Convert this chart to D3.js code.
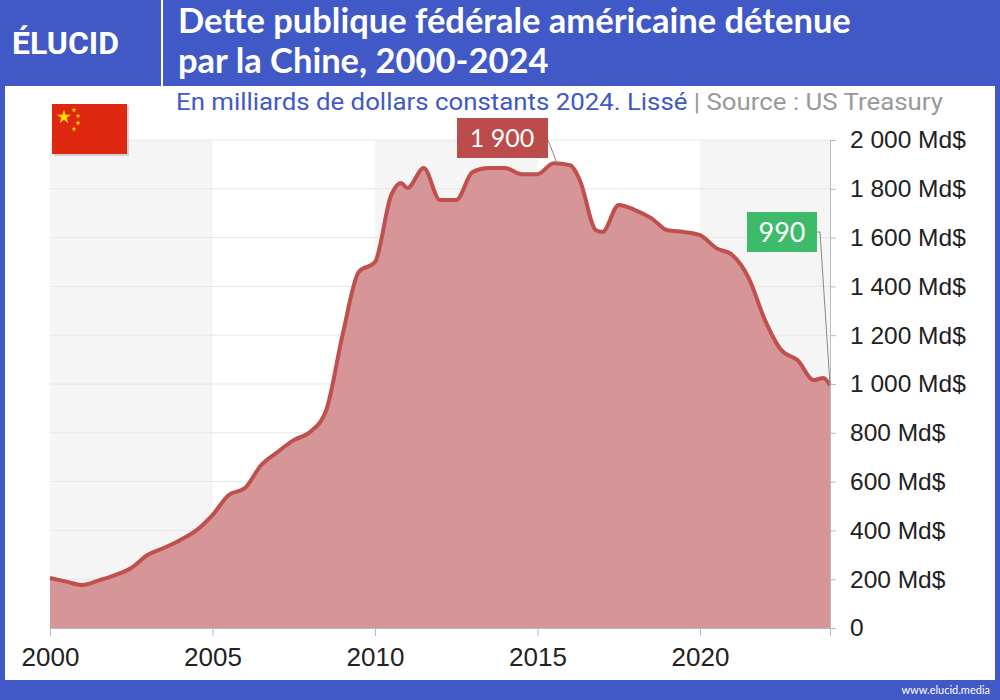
<!DOCTYPE html>
<html><head><meta charset="utf-8">
<script src="https://cdn.jsdelivr.net/npm/d3@7"></script>
<style>body{margin:0;background:#fff}svg{display:block;font-family:Lato,Roboto,sans-serif}</style>
</head><body><svg id="c" width="1000" height="700"></svg>
<script>
const years=[2000,2000.5,2001,2001.5,2002,2002.5,2003,2003.5,2004,2004.5,2005,2005.5,2006,2006.5,2007,2007.5,2008,2008.5,2009,2009.5,2010,2010.5,2010.8,2011,2011.5,2012,2012.5,2013,2013.5,2014,2014.5,2015,2015.5,2016,2016.3,2016.8,2017,2017.5,2018,2018.5,2019,2019.5,2020,2020.5,2021,2021.5,2022,2022.5,2023,2023.5,2023.8,2024];
const values=[205,190,176,195,217,246,299,328,360,400,463,545,574,668,721,770,803,893,1200,1459,1500,1775,1824,1803,1885,1754,1754,1869,1885,1885,1860,1860,1905,1897,1836,1630,1623,1734,1713,1680,1630,1623,1610,1557,1528,1434,1262,1139,1098,1016,1025,995];
const yTicks=[0,200,400,600,800,1000,1200,1400,1600,1800,2000];
const xTicks=[2000,2005,2010,2015,2020];
const bands=[[2000,2005],[2010,2015],[2020,2024]];
const blue="#4159c6";
const svg=d3.select("#c");
const x=d3.scaleLinear().domain([2000,2024]).range([50,830]);
const y=d3.scaleLinear().domain([0,2000]).range([628,140]);
svg.append("rect").attr("width",1000).attr("height",700).attr("fill",blue);
svg.append("rect").attr("x",5).attr("y",86).attr("width",990).attr("height",594).attr("fill","#fff");
svg.append("line").attr("x1",162).attr("x2",162).attr("y1",0).attr("y2",86).attr("stroke","#fff").attr("stroke-width",2);
svg.append("text").attr("x",12).attr("y",54).attr("fill","#fff").attr("font-size",32).attr("font-weight",700).attr("font-family","Roboto").text("ÉLUCID");
svg.append("text").attr("x",178).attr("y",33).attr("fill","#fff").attr("font-size",34.5).attr("font-weight",700).text("Dette publique fédérale américaine détenue");
svg.append("text").attr("x",178).attr("y",73).attr("fill","#fff").attr("font-size",34.5).attr("font-weight",700).text("par la Chine, 2000-2024");
const st=svg.append("text").attr("x",176).attr("y",110).attr("font-size",23).attr("font-family","Roboto").attr("textLength",767).attr("lengthAdjust","spacingAndGlyphs");
st.append("tspan").attr("fill",blue).text("En milliards de dollars constants 2024. Lissé");
st.append("tspan").attr("fill","#999").text("  |  Source : US Treasury");
svg.append("text").attr("x",990).attr("y",694).attr("text-anchor","end").attr("fill","#fff").attr("font-size",11).text("www.elucid.media");
svg.selectAll(".band").data(bands).join("rect").attr("x",d=>x(d[0])).attr("width",d=>x(d[1])-x(d[0])).attr("y",y(2000)).attr("height",y(0)-y(2000)).attr("fill","#f5f5f5");
svg.selectAll(".g").data(yTicks).join("line").attr("x1",50).attr("x2",830).attr("y1",d=>y(d)).attr("y2",d=>y(d)).attr("stroke","#e6e6e6");
svg.append("rect").attr("x",54).attr("y",106).attr("width",75).attr("height",50).attr("fill","#999").attr("opacity",0.4);
svg.append("rect").attr("x",52).attr("y",104).attr("width",75).attr("height",50).attr("fill","#de2910");
const star=d3.symbol().type(d3.symbolStar);
svg.append("path").attr("d",star.size(60)()).attr("transform","translate(64,117)").attr("fill","#ffde00");
[[74,110],[78,116],[78,123],[74,129]].forEach(p=>svg.append("path").attr("d",star.size(8)()).attr("transform",`translate(${p[0]},${p[1]})`).attr("fill","#ffde00"));
const data=years.map((d,i)=>[d,values[i]]);
svg.append("path").datum(data).attr("fill","#d69596").attr("d",d3.area().x(d=>x(d[0])).y0(y(0)).y1(d=>y(d[1])).curve(d3.curveMonotoneX));
svg.append("path").datum(data).attr("fill","none").attr("stroke","#c0504d").attr("stroke-width",4).attr("d",d3.line().x(d=>x(d[0])).y(d=>y(d[1])).curve(d3.curveMonotoneX));
const ya=svg.append("g").attr("transform","translate(830,0)").call(d3.axisRight(y).tickValues(yTicks).tickSize(6).tickFormat(d=>d===0?"0":d3.format(",")(d).replace(","," ")+" Md$"));
ya.select(".domain").attr("stroke","#bbb");ya.selectAll("line").attr("stroke","#bbb");
ya.selectAll("text").attr("font-size",24.5).attr("fill","#222").attr("x",20);
const xa=svg.append("g").attr("transform","translate(0,628)").call(d3.axisBottom(x).tickValues(xTicks).tickSize(8).tickFormat(d3.format("d")));
xa.select(".domain").attr("stroke","#bbb");xa.selectAll("line").attr("stroke","#bbb");
xa.selectAll("text").attr("font-size",26).attr("fill","#222").attr("dy","1.05em");
svg.append("polyline").attr("points",`548,140 ${x(2015.6)},${y(1905)}`).attr("stroke","#888").attr("fill","none");
svg.append("rect").attr("x",457).attr("y",118).attr("width",91).attr("height",40).attr("fill","#bc4b4b");
svg.append("text").attr("x",502).attr("y",147).attr("text-anchor","middle").attr("fill","#fff").attr("font-size",25).text("1 900");
svg.append("polyline").attr("points",`817,232 820,232 ${x(2024)},${y(995)}`).attr("stroke","#888").attr("fill","none");
svg.append("rect").attr("x",747).attr("y",212).attr("width",70).attr("height",40).attr("fill","#3dbb6a");
svg.append("text").attr("x",782).attr("y",242).attr("text-anchor","middle").attr("fill","#fff").attr("font-size",27).text("990");
</script></body></html>
